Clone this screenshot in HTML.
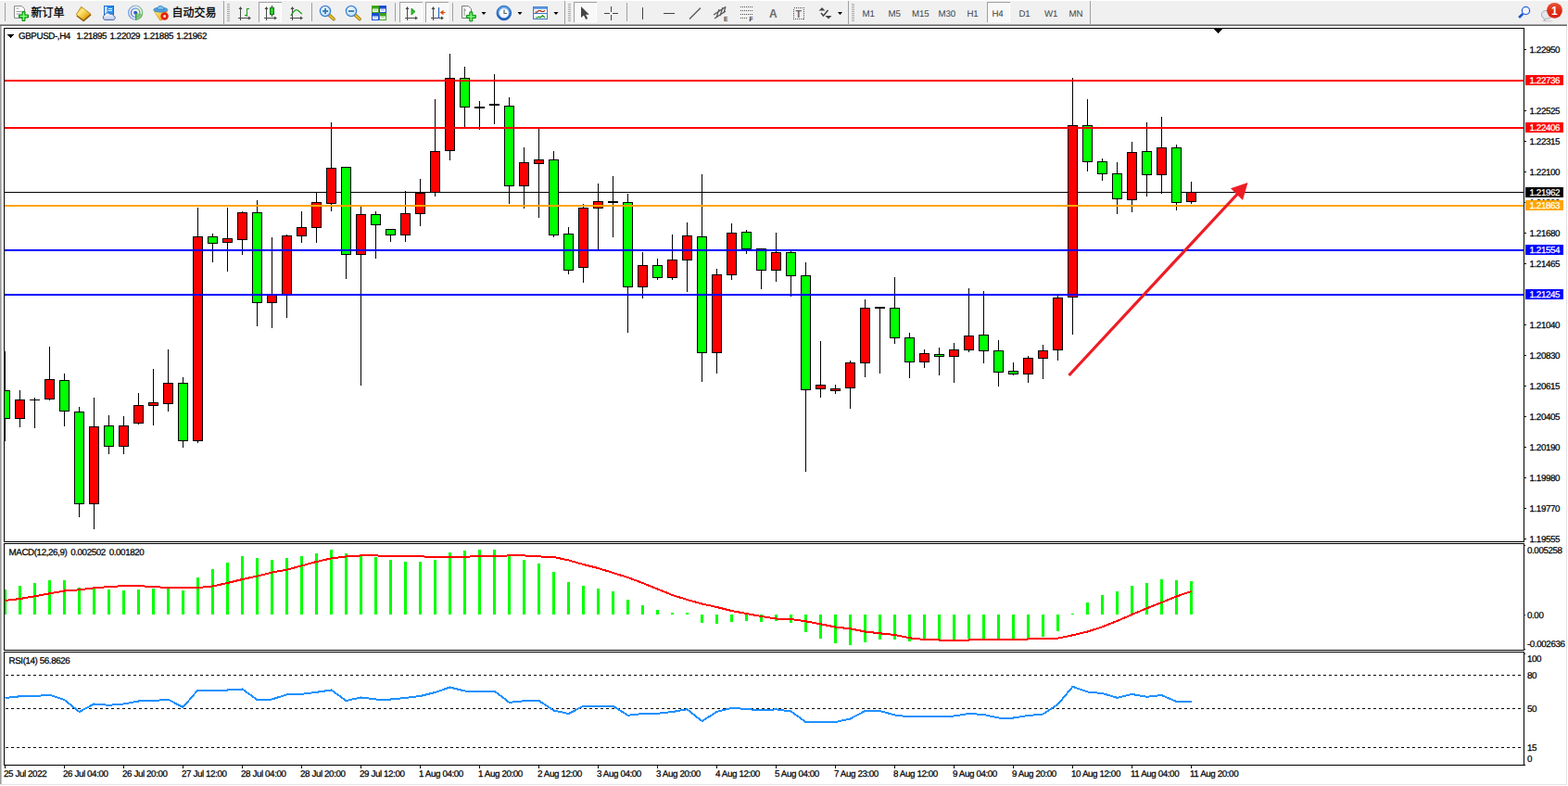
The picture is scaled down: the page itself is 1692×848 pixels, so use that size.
<!DOCTYPE html><html><head><meta charset="utf-8"><title>GBPUSD H4</title><style>
html,body{margin:0;padding:0;background:#fff;}body{width:1692px;height:848px;overflow:hidden;position:relative;font-family:"Liberation Sans",sans-serif;}
svg{position:absolute;left:0;top:0;}text{font-family:"Liberation Sans",sans-serif;}
.t{font-size:9.8px;letter-spacing:-0.4px;fill:#000;stroke:#000;stroke-width:0.25px;text-rendering:geometricPrecision;}.tw{font-size:9.8px;letter-spacing:-0.4px;fill:#fff;stroke:#fff;stroke-width:0.25px;text-rendering:geometricPrecision;}
.tb{font-size:9.7px;letter-spacing:-0.15px;fill:#444;text-rendering:geometricPrecision;}
</style></head><body>
<svg width="1692" height="848" viewBox="0 0 1692 848">
<g shape-rendering="crispEdges">
<rect x="0" y="0" width="1692" height="848" fill="#fff"/>
<rect x="0" y="1" width="1692" height="25" fill="#f0f0f0"/>
<rect x="0" y="26" width="1691" height="1" fill="#a0a0a0"/>
<rect x="0" y="27" width="1691" height="1" fill="#696969"/>
<rect x="0" y="28" width="1" height="818" fill="#9c9c9c"/>
<rect x="1" y="28" width="1" height="818" fill="#c4c4c4"/>
<rect x="1690" y="28" width="1" height="819" fill="#e3e3e3"/>
<rect x="0" y="846" width="1691" height="1" fill="#e3e3e3"/>
</g>
<defs><clipPath id="cm"><rect x="5" y="31" width="1639" height="553"/></clipPath>
<clipPath id="cd"><rect x="5" y="587" width="1639" height="114"/></clipPath>
<clipPath id="cr"><rect x="5" y="704" width="1639" height="121"/></clipPath></defs>
<g shape-rendering="crispEdges">
<rect x="5" y="207" width="1639" height="1" fill="#000"/>
<g clip-path="url(#cm)">
<rect x="5" y="379" width="1" height="97" fill="#000"/>
<rect x="0" y="421" width="11" height="31" fill="#000"/>
<rect x="1" y="422" width="9" height="29" fill="#00ff00"/>
<rect x="21" y="421" width="1" height="40" fill="#000"/>
<rect x="16" y="431" width="11" height="21" fill="#000"/>
<rect x="17" y="432" width="9" height="19" fill="#ff0000"/>
<rect x="37" y="429" width="1" height="33" fill="#000"/>
<rect x="32" y="431" width="11" height="1" fill="#000"/>
<rect x="53" y="374" width="1" height="58" fill="#000"/>
<rect x="48" y="409" width="11" height="22" fill="#000"/>
<rect x="49" y="410" width="9" height="20" fill="#ff0000"/>
<rect x="69" y="403" width="1" height="57" fill="#000"/>
<rect x="64" y="410" width="11" height="34" fill="#000"/>
<rect x="65" y="411" width="9" height="32" fill="#00ff00"/>
<rect x="85" y="439" width="1" height="119" fill="#000"/>
<rect x="80" y="444" width="11" height="100" fill="#000"/>
<rect x="81" y="445" width="9" height="98" fill="#00ff00"/>
<rect x="101" y="429" width="1" height="142" fill="#000"/>
<rect x="96" y="460" width="11" height="84" fill="#000"/>
<rect x="97" y="461" width="9" height="82" fill="#ff0000"/>
<rect x="117" y="448" width="1" height="42" fill="#000"/>
<rect x="112" y="459" width="11" height="23" fill="#000"/>
<rect x="113" y="460" width="9" height="21" fill="#00ff00"/>
<rect x="133" y="449" width="1" height="41" fill="#000"/>
<rect x="128" y="459" width="11" height="23" fill="#000"/>
<rect x="129" y="460" width="9" height="21" fill="#ff0000"/>
<rect x="149" y="424" width="1" height="34" fill="#000"/>
<rect x="144" y="437" width="11" height="20" fill="#000"/>
<rect x="145" y="438" width="9" height="18" fill="#ff0000"/>
<rect x="165" y="398" width="1" height="61" fill="#000"/>
<rect x="160" y="434" width="11" height="4" fill="#000"/>
<rect x="161" y="435" width="9" height="2" fill="#ff0000"/>
<rect x="181" y="377" width="1" height="67" fill="#000"/>
<rect x="176" y="413" width="11" height="23" fill="#000"/>
<rect x="177" y="414" width="9" height="21" fill="#ff0000"/>
<rect x="197" y="407" width="1" height="76" fill="#000"/>
<rect x="192" y="413" width="11" height="63" fill="#000"/>
<rect x="193" y="414" width="9" height="61" fill="#00ff00"/>
<rect x="213" y="224" width="1" height="254" fill="#000"/>
<rect x="208" y="255" width="11" height="221" fill="#000"/>
<rect x="209" y="256" width="9" height="219" fill="#ff0000"/>
<rect x="229" y="252" width="1" height="31" fill="#000"/>
<rect x="224" y="255" width="11" height="8" fill="#000"/>
<rect x="225" y="256" width="9" height="6" fill="#00ff00"/>
<rect x="245" y="224" width="1" height="69" fill="#000"/>
<rect x="240" y="257" width="11" height="5" fill="#000"/>
<rect x="241" y="258" width="9" height="3" fill="#ff0000"/>
<rect x="261" y="228" width="1" height="47" fill="#000"/>
<rect x="256" y="229" width="11" height="30" fill="#000"/>
<rect x="257" y="230" width="9" height="28" fill="#ff0000"/>
<rect x="277" y="216" width="1" height="136" fill="#000"/>
<rect x="272" y="229" width="11" height="98" fill="#000"/>
<rect x="273" y="230" width="9" height="96" fill="#00ff00"/>
<rect x="293" y="256" width="1" height="98" fill="#000"/>
<rect x="288" y="317" width="11" height="10" fill="#000"/>
<rect x="289" y="318" width="9" height="8" fill="#ff0000"/>
<rect x="309" y="253" width="1" height="90" fill="#000"/>
<rect x="304" y="254" width="11" height="64" fill="#000"/>
<rect x="305" y="255" width="9" height="62" fill="#ff0000"/>
<rect x="325" y="228" width="1" height="34" fill="#000"/>
<rect x="320" y="245" width="11" height="10" fill="#000"/>
<rect x="321" y="246" width="9" height="8" fill="#ff0000"/>
<rect x="341" y="207" width="1" height="55" fill="#000"/>
<rect x="336" y="218" width="11" height="28" fill="#000"/>
<rect x="337" y="219" width="9" height="26" fill="#ff0000"/>
<rect x="357" y="132" width="1" height="96" fill="#000"/>
<rect x="352" y="181" width="11" height="39" fill="#000"/>
<rect x="353" y="182" width="9" height="37" fill="#ff0000"/>
<rect x="373" y="180" width="1" height="121" fill="#000"/>
<rect x="368" y="180" width="11" height="95" fill="#000"/>
<rect x="369" y="181" width="9" height="93" fill="#00ff00"/>
<rect x="389" y="223" width="1" height="193" fill="#000"/>
<rect x="384" y="231" width="11" height="44" fill="#000"/>
<rect x="385" y="232" width="9" height="42" fill="#ff0000"/>
<rect x="405" y="228" width="1" height="51" fill="#000"/>
<rect x="400" y="231" width="11" height="12" fill="#000"/>
<rect x="401" y="232" width="9" height="10" fill="#00ff00"/>
<rect x="421" y="247" width="1" height="14" fill="#000"/>
<rect x="416" y="247" width="11" height="7" fill="#000"/>
<rect x="417" y="248" width="9" height="5" fill="#00ff00"/>
<rect x="437" y="206" width="1" height="55" fill="#000"/>
<rect x="432" y="230" width="11" height="24" fill="#000"/>
<rect x="433" y="231" width="9" height="22" fill="#ff0000"/>
<rect x="453" y="193" width="1" height="51" fill="#000"/>
<rect x="448" y="208" width="11" height="23" fill="#000"/>
<rect x="449" y="209" width="9" height="21" fill="#ff0000"/>
<rect x="469" y="107" width="1" height="105" fill="#000"/>
<rect x="464" y="163" width="11" height="45" fill="#000"/>
<rect x="465" y="164" width="9" height="43" fill="#ff0000"/>
<rect x="485" y="58" width="1" height="115" fill="#000"/>
<rect x="480" y="84" width="11" height="79" fill="#000"/>
<rect x="481" y="85" width="9" height="77" fill="#ff0000"/>
<rect x="501" y="72" width="1" height="65" fill="#000"/>
<rect x="496" y="84" width="11" height="32" fill="#000"/>
<rect x="497" y="85" width="9" height="30" fill="#00ff00"/>
<rect x="517" y="109" width="1" height="31" fill="#000"/>
<rect x="512" y="115" width="11" height="2" fill="#000"/>
<rect x="533" y="80" width="1" height="54" fill="#000"/>
<rect x="528" y="112" width="11" height="2" fill="#000"/>
<rect x="549" y="105" width="1" height="115" fill="#000"/>
<rect x="544" y="114" width="11" height="87" fill="#000"/>
<rect x="545" y="115" width="9" height="85" fill="#00ff00"/>
<rect x="565" y="159" width="1" height="66" fill="#000"/>
<rect x="560" y="175" width="11" height="26" fill="#000"/>
<rect x="561" y="176" width="9" height="24" fill="#ff0000"/>
<rect x="581" y="139" width="1" height="96" fill="#000"/>
<rect x="576" y="172" width="11" height="5" fill="#000"/>
<rect x="577" y="173" width="9" height="3" fill="#ff0000"/>
<rect x="597" y="163" width="1" height="93" fill="#000"/>
<rect x="592" y="172" width="11" height="82" fill="#000"/>
<rect x="593" y="173" width="9" height="80" fill="#00ff00"/>
<rect x="613" y="245" width="1" height="51" fill="#000"/>
<rect x="608" y="252" width="11" height="40" fill="#000"/>
<rect x="609" y="253" width="9" height="38" fill="#00ff00"/>
<rect x="629" y="220" width="1" height="85" fill="#000"/>
<rect x="624" y="224" width="11" height="65" fill="#000"/>
<rect x="625" y="225" width="9" height="63" fill="#ff0000"/>
<rect x="645" y="198" width="1" height="71" fill="#000"/>
<rect x="640" y="217" width="11" height="8" fill="#000"/>
<rect x="641" y="218" width="9" height="6" fill="#ff0000"/>
<rect x="661" y="190" width="1" height="66" fill="#000"/>
<rect x="656" y="217" width="11" height="2" fill="#000"/>
<rect x="677" y="209" width="1" height="150" fill="#000"/>
<rect x="672" y="218" width="11" height="92" fill="#000"/>
<rect x="673" y="219" width="9" height="90" fill="#00ff00"/>
<rect x="693" y="272" width="1" height="50" fill="#000"/>
<rect x="688" y="286" width="11" height="24" fill="#000"/>
<rect x="689" y="287" width="9" height="22" fill="#ff0000"/>
<rect x="709" y="279" width="1" height="23" fill="#000"/>
<rect x="704" y="286" width="11" height="14" fill="#000"/>
<rect x="705" y="287" width="9" height="12" fill="#00ff00"/>
<rect x="725" y="253" width="1" height="49" fill="#000"/>
<rect x="720" y="280" width="11" height="20" fill="#000"/>
<rect x="721" y="281" width="9" height="18" fill="#ff0000"/>
<rect x="741" y="240" width="1" height="75" fill="#000"/>
<rect x="736" y="254" width="11" height="27" fill="#000"/>
<rect x="737" y="255" width="9" height="25" fill="#ff0000"/>
<rect x="757" y="188" width="1" height="224" fill="#000"/>
<rect x="752" y="255" width="11" height="126" fill="#000"/>
<rect x="753" y="256" width="9" height="124" fill="#00ff00"/>
<rect x="773" y="290" width="1" height="113" fill="#000"/>
<rect x="768" y="296" width="11" height="85" fill="#000"/>
<rect x="769" y="297" width="9" height="83" fill="#ff0000"/>
<rect x="789" y="241" width="1" height="61" fill="#000"/>
<rect x="784" y="251" width="11" height="46" fill="#000"/>
<rect x="785" y="252" width="9" height="44" fill="#ff0000"/>
<rect x="805" y="248" width="1" height="26" fill="#000"/>
<rect x="800" y="250" width="11" height="19" fill="#000"/>
<rect x="801" y="251" width="9" height="17" fill="#00ff00"/>
<rect x="821" y="268" width="1" height="44" fill="#000"/>
<rect x="816" y="268" width="11" height="24" fill="#000"/>
<rect x="817" y="269" width="9" height="22" fill="#00ff00"/>
<rect x="837" y="251" width="1" height="53" fill="#000"/>
<rect x="832" y="272" width="11" height="20" fill="#000"/>
<rect x="833" y="273" width="9" height="18" fill="#ff0000"/>
<rect x="853" y="271" width="1" height="49" fill="#000"/>
<rect x="848" y="272" width="11" height="26" fill="#000"/>
<rect x="849" y="273" width="9" height="24" fill="#00ff00"/>
<rect x="869" y="283" width="1" height="226" fill="#000"/>
<rect x="864" y="297" width="11" height="124" fill="#000"/>
<rect x="865" y="298" width="9" height="122" fill="#00ff00"/>
<rect x="885" y="368" width="1" height="61" fill="#000"/>
<rect x="880" y="415" width="11" height="5" fill="#000"/>
<rect x="881" y="416" width="9" height="3" fill="#ff0000"/>
<rect x="901" y="415" width="1" height="10" fill="#000"/>
<rect x="896" y="419" width="11" height="3" fill="#000"/>
<rect x="897" y="420" width="9" height="1" fill="#ff0000"/>
<rect x="917" y="389" width="1" height="52" fill="#000"/>
<rect x="912" y="391" width="11" height="28" fill="#000"/>
<rect x="913" y="392" width="9" height="26" fill="#ff0000"/>
<rect x="933" y="323" width="1" height="84" fill="#000"/>
<rect x="928" y="332" width="11" height="60" fill="#000"/>
<rect x="929" y="333" width="9" height="58" fill="#ff0000"/>
<rect x="949" y="331" width="1" height="72" fill="#000"/>
<rect x="944" y="331" width="11" height="2" fill="#000"/>
<rect x="965" y="299" width="1" height="72" fill="#000"/>
<rect x="960" y="332" width="11" height="33" fill="#000"/>
<rect x="961" y="333" width="9" height="31" fill="#00ff00"/>
<rect x="981" y="359" width="1" height="49" fill="#000"/>
<rect x="976" y="364" width="11" height="27" fill="#000"/>
<rect x="977" y="365" width="9" height="25" fill="#00ff00"/>
<rect x="997" y="377" width="1" height="20" fill="#000"/>
<rect x="992" y="381" width="11" height="10" fill="#000"/>
<rect x="993" y="382" width="9" height="8" fill="#ff0000"/>
<rect x="1013" y="375" width="1" height="30" fill="#000"/>
<rect x="1008" y="382" width="11" height="3" fill="#000"/>
<rect x="1009" y="383" width="9" height="1" fill="#00ff00"/>
<rect x="1029" y="370" width="1" height="43" fill="#000"/>
<rect x="1024" y="377" width="11" height="8" fill="#000"/>
<rect x="1025" y="378" width="9" height="6" fill="#ff0000"/>
<rect x="1045" y="311" width="1" height="69" fill="#000"/>
<rect x="1040" y="362" width="11" height="16" fill="#000"/>
<rect x="1041" y="363" width="9" height="14" fill="#ff0000"/>
<rect x="1061" y="314" width="1" height="78" fill="#000"/>
<rect x="1056" y="361" width="11" height="18" fill="#000"/>
<rect x="1057" y="362" width="9" height="16" fill="#00ff00"/>
<rect x="1077" y="367" width="1" height="50" fill="#000"/>
<rect x="1072" y="378" width="11" height="24" fill="#000"/>
<rect x="1073" y="379" width="9" height="22" fill="#00ff00"/>
<rect x="1093" y="391" width="1" height="14" fill="#000"/>
<rect x="1088" y="400" width="11" height="4" fill="#000"/>
<rect x="1089" y="401" width="9" height="2" fill="#00ff00"/>
<rect x="1109" y="384" width="1" height="29" fill="#000"/>
<rect x="1104" y="386" width="11" height="18" fill="#000"/>
<rect x="1105" y="387" width="9" height="16" fill="#ff0000"/>
<rect x="1125" y="372" width="1" height="37" fill="#000"/>
<rect x="1120" y="378" width="11" height="9" fill="#000"/>
<rect x="1121" y="379" width="9" height="7" fill="#ff0000"/>
<rect x="1141" y="319" width="1" height="70" fill="#000"/>
<rect x="1136" y="321" width="11" height="57" fill="#000"/>
<rect x="1137" y="322" width="9" height="55" fill="#ff0000"/>
<rect x="1157" y="84" width="1" height="277" fill="#000"/>
<rect x="1152" y="135" width="11" height="186" fill="#000"/>
<rect x="1153" y="136" width="9" height="184" fill="#ff0000"/>
<rect x="1173" y="107" width="1" height="78" fill="#000"/>
<rect x="1168" y="135" width="11" height="40" fill="#000"/>
<rect x="1169" y="136" width="9" height="38" fill="#00ff00"/>
<rect x="1189" y="171" width="1" height="24" fill="#000"/>
<rect x="1184" y="174" width="11" height="14" fill="#000"/>
<rect x="1185" y="175" width="9" height="12" fill="#00ff00"/>
<rect x="1205" y="175" width="1" height="56" fill="#000"/>
<rect x="1200" y="187" width="11" height="28" fill="#000"/>
<rect x="1201" y="188" width="9" height="26" fill="#00ff00"/>
<rect x="1221" y="153" width="1" height="76" fill="#000"/>
<rect x="1216" y="164" width="11" height="52" fill="#000"/>
<rect x="1217" y="165" width="9" height="50" fill="#ff0000"/>
<rect x="1237" y="132" width="1" height="80" fill="#000"/>
<rect x="1232" y="163" width="11" height="26" fill="#000"/>
<rect x="1233" y="164" width="9" height="24" fill="#00ff00"/>
<rect x="1253" y="126" width="1" height="83" fill="#000"/>
<rect x="1248" y="159" width="11" height="30" fill="#000"/>
<rect x="1249" y="160" width="9" height="28" fill="#ff0000"/>
<rect x="1269" y="156" width="1" height="71" fill="#000"/>
<rect x="1264" y="159" width="11" height="60" fill="#000"/>
<rect x="1265" y="160" width="9" height="58" fill="#00ff00"/>
<rect x="1285" y="196" width="1" height="24" fill="#000"/>
<rect x="1280" y="207" width="11" height="11" fill="#000"/>
<rect x="1281" y="208" width="9" height="9" fill="#ff0000"/>
</g>
<rect x="5" y="86" width="1639" height="2" fill="#ff0000"/>
<rect x="5" y="137" width="1639" height="2" fill="#ff0000"/>
<rect x="5" y="221" width="1639" height="2" fill="#ffa500"/>
<rect x="5" y="269" width="1639" height="2" fill="#0000ff"/>
<rect x="5" y="317" width="1639" height="2" fill="#0000ff"/>
<g clip-path="url(#cd)">
<rect x="4" y="636" width="3" height="27" fill="#00ff00"/>
<rect x="20" y="632" width="3" height="31" fill="#00ff00"/>
<rect x="36" y="629" width="3" height="34" fill="#00ff00"/>
<rect x="52" y="626" width="3" height="37" fill="#00ff00"/>
<rect x="68" y="626" width="3" height="37" fill="#00ff00"/>
<rect x="84" y="634" width="3" height="29" fill="#00ff00"/>
<rect x="100" y="635" width="3" height="28" fill="#00ff00"/>
<rect x="116" y="636" width="3" height="27" fill="#00ff00"/>
<rect x="132" y="637" width="3" height="26" fill="#00ff00"/>
<rect x="148" y="636" width="3" height="27" fill="#00ff00"/>
<rect x="164" y="635" width="3" height="28" fill="#00ff00"/>
<rect x="180" y="634" width="3" height="29" fill="#00ff00"/>
<rect x="196" y="637" width="3" height="26" fill="#00ff00"/>
<rect x="212" y="623" width="3" height="40" fill="#00ff00"/>
<rect x="228" y="614" width="3" height="49" fill="#00ff00"/>
<rect x="244" y="607" width="3" height="56" fill="#00ff00"/>
<rect x="260" y="600" width="3" height="63" fill="#00ff00"/>
<rect x="276" y="602" width="3" height="61" fill="#00ff00"/>
<rect x="292" y="604" width="3" height="59" fill="#00ff00"/>
<rect x="308" y="602" width="3" height="61" fill="#00ff00"/>
<rect x="324" y="600" width="3" height="63" fill="#00ff00"/>
<rect x="340" y="597" width="3" height="66" fill="#00ff00"/>
<rect x="356" y="593" width="3" height="70" fill="#00ff00"/>
<rect x="372" y="597" width="3" height="66" fill="#00ff00"/>
<rect x="388" y="598" width="3" height="65" fill="#00ff00"/>
<rect x="404" y="601" width="3" height="62" fill="#00ff00"/>
<rect x="420" y="604" width="3" height="59" fill="#00ff00"/>
<rect x="436" y="606" width="3" height="57" fill="#00ff00"/>
<rect x="452" y="606" width="3" height="57" fill="#00ff00"/>
<rect x="468" y="604" width="3" height="59" fill="#00ff00"/>
<rect x="484" y="596" width="3" height="67" fill="#00ff00"/>
<rect x="500" y="594" width="3" height="69" fill="#00ff00"/>
<rect x="516" y="593" width="3" height="70" fill="#00ff00"/>
<rect x="532" y="593" width="3" height="70" fill="#00ff00"/>
<rect x="548" y="600" width="3" height="63" fill="#00ff00"/>
<rect x="564" y="604" width="3" height="59" fill="#00ff00"/>
<rect x="580" y="608" width="3" height="55" fill="#00ff00"/>
<rect x="596" y="617" width="3" height="46" fill="#00ff00"/>
<rect x="612" y="628" width="3" height="35" fill="#00ff00"/>
<rect x="628" y="632" width="3" height="31" fill="#00ff00"/>
<rect x="644" y="635" width="3" height="28" fill="#00ff00"/>
<rect x="660" y="638" width="3" height="25" fill="#00ff00"/>
<rect x="676" y="647" width="3" height="16" fill="#00ff00"/>
<rect x="692" y="653" width="3" height="10" fill="#00ff00"/>
<rect x="708" y="658" width="3" height="5" fill="#00ff00"/>
<rect x="724" y="661" width="3" height="2" fill="#00ff00"/>
<rect x="740" y="661" width="3" height="2" fill="#00ff00"/>
<rect x="756" y="663" width="3" height="9" fill="#00ff00"/>
<rect x="772" y="663" width="3" height="10" fill="#00ff00"/>
<rect x="788" y="663" width="3" height="8" fill="#00ff00"/>
<rect x="804" y="663" width="3" height="7" fill="#00ff00"/>
<rect x="820" y="663" width="3" height="8" fill="#00ff00"/>
<rect x="836" y="663" width="3" height="7" fill="#00ff00"/>
<rect x="852" y="663" width="3" height="9" fill="#00ff00"/>
<rect x="868" y="663" width="3" height="19" fill="#00ff00"/>
<rect x="884" y="663" width="3" height="26" fill="#00ff00"/>
<rect x="900" y="663" width="3" height="31" fill="#00ff00"/>
<rect x="916" y="663" width="3" height="33" fill="#00ff00"/>
<rect x="932" y="663" width="3" height="30" fill="#00ff00"/>
<rect x="948" y="663" width="3" height="27" fill="#00ff00"/>
<rect x="964" y="663" width="3" height="27" fill="#00ff00"/>
<rect x="980" y="663" width="3" height="29" fill="#00ff00"/>
<rect x="996" y="663" width="3" height="28" fill="#00ff00"/>
<rect x="1012" y="663" width="3" height="27" fill="#00ff00"/>
<rect x="1028" y="663" width="3" height="27" fill="#00ff00"/>
<rect x="1044" y="663" width="3" height="26" fill="#00ff00"/>
<rect x="1060" y="663" width="3" height="26" fill="#00ff00"/>
<rect x="1076" y="663" width="3" height="26" fill="#00ff00"/>
<rect x="1092" y="663" width="3" height="26" fill="#00ff00"/>
<rect x="1108" y="663" width="3" height="27" fill="#00ff00"/>
<rect x="1124" y="663" width="3" height="24" fill="#00ff00"/>
<rect x="1140" y="663" width="3" height="18" fill="#00ff00"/>
<rect x="1156" y="662" width="3" height="1" fill="#00ff00"/>
<rect x="1172" y="650" width="3" height="13" fill="#00ff00"/>
<rect x="1188" y="642" width="3" height="21" fill="#00ff00"/>
<rect x="1204" y="638" width="3" height="25" fill="#00ff00"/>
<rect x="1220" y="632" width="3" height="31" fill="#00ff00"/>
<rect x="1236" y="629" width="3" height="34" fill="#00ff00"/>
<rect x="1252" y="625" width="3" height="38" fill="#00ff00"/>
<rect x="1268" y="626" width="3" height="37" fill="#00ff00"/>
<rect x="1284" y="627" width="3" height="36" fill="#00ff00"/>
<polyline points="5.5,648 21.5,646 37.5,643.3 53.5,640.3 69.5,637.5 85.5,636.3 101.5,634.3 117.5,633.1 133.5,632.1 149.5,632.1 165.5,633.1 181.5,634 197.5,634 213.5,634 229.5,632.5 245.5,629 261.5,625 277.5,621.6 293.5,617.6 309.5,614.6 325.5,610.4 341.5,606 357.5,602.4 373.5,600.4 389.5,599.4 405.5,599.4 421.5,600 437.5,600 453.5,600.4 469.5,600.8 485.5,600.8 501.5,600.8 517.5,600 533.5,600 549.5,599.4 565.5,599.4 581.5,600.4 597.5,601 613.5,604.4 629.5,609 645.5,613 661.5,618 677.5,623 693.5,629 709.5,635.5 725.5,642 741.5,647 757.5,651.5 773.5,655 789.5,659 805.5,662 821.5,665 837.5,667.5 853.5,668 869.5,670.3 885.5,673.3 901.5,676.5 917.5,678.3 933.5,681.5 949.5,683.3 965.5,685 981.5,688.3 997.5,690 1013.5,690.5 1029.5,690.5 1045.5,690.5 1061.5,690 1077.5,690 1093.5,690 1109.5,689.5 1125.5,689 1141.5,688.7 1157.5,685.3 1173.5,681.5 1189.5,676.3 1205.5,670 1221.5,663 1237.5,656.3 1253.5,650 1269.5,643.5 1285.5,638" fill="none" stroke="#ff0000" stroke-width="2"/>
</g>
<g clip-path="url(#cr)">
<line x1="6" y1="728.5" x2="1644" y2="728.5" stroke="#000" stroke-width="1" stroke-dasharray="3 3"/>
<line x1="6" y1="764.5" x2="1644" y2="764.5" stroke="#000" stroke-width="1" stroke-dasharray="3 3"/>
<line x1="6" y1="806.5" x2="1644" y2="806.5" stroke="#000" stroke-width="1" stroke-dasharray="3 3"/>
</g>
</g>
<g clip-path="url(#cr)">
<polyline points="5.5,753 21.5,751.3 37.5,751 53.5,749.8 69.5,755 85.5,768 101.5,759.5 117.5,760.8 133.5,759.5 149.5,756.5 165.5,756 181.5,754.8 197.5,763 213.5,744.5 229.5,744.5 245.5,744.5 261.5,743.5 277.5,755 293.5,754.5 309.5,749.3 325.5,748.8 341.5,746.8 357.5,744.5 373.5,756 389.5,752.5 405.5,754.5 421.5,754.5 437.5,753 453.5,751 469.5,747 485.5,741.5 501.5,745.5 517.5,745.5 533.5,745.5 549.5,757.8 565.5,756.3 581.5,756 597.5,766.5 613.5,770 629.5,761.8 645.5,761.8 661.5,761.8 677.5,771.8 693.5,770 709.5,769.8 725.5,768 741.5,765.3 757.5,778 773.5,768 789.5,763.8 805.5,765 821.5,766.5 837.5,765.3 853.5,767.5 869.5,779 885.5,779 901.5,779 917.5,775.5 933.5,767 949.5,767 965.5,771.5 981.5,773.5 997.5,772.8 1013.5,772.8 1029.5,772.5 1045.5,770 1061.5,771 1077.5,774.5 1093.5,774.5 1109.5,772 1125.5,770.5 1141.5,760 1157.5,740.8 1173.5,746.5 1189.5,748 1205.5,752.8 1221.5,749 1237.5,751.8 1253.5,750 1269.5,757 1285.5,757" fill="none" stroke="#1e90ff" stroke-width="2" stroke-linejoin="round" shape-rendering="crispEdges"/>
</g>
<g shape-rendering="crispEdges" fill="#000">
<rect x="4" y="30" width="1641" height="1"/>
<rect x="4" y="30" width="1" height="796"/>
<rect x="1644" y="30" width="1" height="796"/>
<rect x="4" y="584" width="1641" height="1"/>
<rect x="4" y="586" width="1641" height="1"/>
<rect x="4" y="701" width="1641" height="1"/>
<rect x="4" y="703" width="1641" height="1"/>
<rect x="4" y="825" width="1642" height="1"/>
<rect x="2" y="585" width="1643" height="1" fill="#fff"/>
<rect x="2" y="702" width="1643" height="1" fill="#fff"/>
<rect x="1645" y="53" width="2" height="1"/>
<rect x="1645" y="119" width="2" height="1"/>
<rect x="1645" y="152" width="2" height="1"/>
<rect x="1645" y="185" width="2" height="1"/>
<rect x="1645" y="218" width="2" height="1"/>
<rect x="1645" y="251" width="2" height="1"/>
<rect x="1645" y="284" width="2" height="1"/>
<rect x="1645" y="350" width="2" height="1"/>
<rect x="1645" y="383" width="2" height="1"/>
<rect x="1645" y="416" width="2" height="1"/>
<rect x="1645" y="449" width="2" height="1"/>
<rect x="1645" y="482" width="2" height="1"/>
<rect x="1645" y="515" width="2" height="1"/>
<rect x="1645" y="548" width="2" height="1"/>
<rect x="1645" y="581" width="2" height="1"/>
<rect x="1645" y="588" width="1" height="1"/>
<rect x="1645" y="663" width="1" height="1"/>
<rect x="1645" y="700" width="1" height="1"/>
<rect x="1645" y="705" width="1" height="1"/>
<rect x="5" y="826" width="1" height="3"/>
<rect x="69" y="826" width="1" height="3"/>
<rect x="133" y="826" width="1" height="3"/>
<rect x="197" y="826" width="1" height="3"/>
<rect x="261" y="826" width="1" height="3"/>
<rect x="325" y="826" width="1" height="3"/>
<rect x="389" y="826" width="1" height="3"/>
<rect x="453" y="826" width="1" height="3"/>
<rect x="517" y="826" width="1" height="3"/>
<rect x="581" y="826" width="1" height="3"/>
<rect x="645" y="826" width="1" height="3"/>
<rect x="709" y="826" width="1" height="3"/>
<rect x="773" y="826" width="1" height="3"/>
<rect x="837" y="826" width="1" height="3"/>
<rect x="901" y="826" width="1" height="3"/>
<rect x="965" y="826" width="1" height="3"/>
<rect x="1029" y="826" width="1" height="3"/>
<rect x="1093" y="826" width="1" height="3"/>
<rect x="1157" y="826" width="1" height="3"/>
<rect x="1221" y="826" width="1" height="3"/>
<rect x="1285" y="826" width="1" height="3"/>
</g>
<g shape-rendering="crispEdges" fill="#000"><rect x="1310" y="31" width="9" height="1"/><rect x="1311" y="32" width="7" height="1"/><rect x="1312" y="33" width="5" height="1"/><rect x="1313" y="34" width="3" height="1"/><rect x="1314" y="35" width="1" height="1"/><rect x="8" y="37" width="7" height="1"/><rect x="9" y="38" width="5" height="1"/><rect x="10" y="39" width="3" height="1"/><rect x="11" y="40" width="1" height="1"/></g>
<text class="t" x="1650.5" y="57">1.22950</text>
<text class="t" x="1650.5" y="123">1.22525</text>
<text class="t" x="1650.5" y="156">1.22315</text>
<text class="t" x="1650.5" y="189">1.22100</text>
<text class="t" x="1650.5" y="222">1.21890</text>
<text class="t" x="1650.5" y="255">1.21680</text>
<text class="t" x="1650.5" y="288">1.21465</text>
<text class="t" x="1650.5" y="354">1.21040</text>
<text class="t" x="1650.5" y="387">1.20830</text>
<text class="t" x="1650.5" y="420">1.20615</text>
<text class="t" x="1650.5" y="453">1.20405</text>
<text class="t" x="1650.5" y="486">1.20190</text>
<text class="t" x="1650.5" y="519">1.19980</text>
<text class="t" x="1650.5" y="552">1.19770</text>
<text class="t" x="1650.5" y="585">1.19555</text>
<rect x="1646" y="81" width="41" height="11" fill="#ff0000" shape-rendering="crispEdges"/>
<text class="tw" x="1650.5" y="90">1.22736</text>
<rect x="1646" y="132" width="41" height="11" fill="#ff0000" shape-rendering="crispEdges"/>
<text class="tw" x="1650.5" y="141">1.22406</text>
<rect x="1646" y="202" width="41" height="11" fill="#000" shape-rendering="crispEdges"/>
<text class="tw" x="1650.5" y="211">1.21962</text>
<rect x="1646" y="216" width="41" height="11" fill="#ffa500" shape-rendering="crispEdges"/>
<text class="tw" x="1650.5" y="225">1.21863</text>
<rect x="1646" y="264" width="41" height="11" fill="#0000ff" shape-rendering="crispEdges"/>
<text class="tw" x="1650.5" y="273">1.21554</text>
<rect x="1646" y="312" width="41" height="11" fill="#0000ff" shape-rendering="crispEdges"/>
<text class="tw" x="1650.5" y="321">1.21245</text>
<text class="t" x="20" y="42" style="word-spacing:1px">GBPUSD-,H4&#160;&#160;1.21895 1.22029 1.21885 1.21962</text>
<text class="t" x="9.5" y="599" style="word-spacing:1.5px">MACD(12,26,9) 0.002502 0.001820</text>
<text class="t" x="9.5" y="716">RSI(14) 56.8626</text>
<text class="t" x="1648" y="597">0.005258</text>
<text class="t" x="1648" y="667">0.00</text>
<text class="t" x="1648" y="698">-0.002636</text>
<text class="t" x="1648" y="714">100</text>
<text class="t" x="1648" y="732">80</text>
<text class="t" x="1648" y="768">50</text>
<text class="t" x="1648" y="810">15</text>
<text class="t" x="1648" y="822">0</text>
<text class="t" x="4" y="838">25 Jul 2022</text>
<text class="t" x="68" y="838">26 Jul 04:00</text>
<text class="t" x="132" y="838">26 Jul 20:00</text>
<text class="t" x="196" y="838">27 Jul 12:00</text>
<text class="t" x="260" y="838">28 Jul 04:00</text>
<text class="t" x="324" y="838">28 Jul 20:00</text>
<text class="t" x="388" y="838">29 Jul 12:00</text>
<text class="t" x="452" y="838">1 Aug 04:00</text>
<text class="t" x="516" y="838">1 Aug 20:00</text>
<text class="t" x="580" y="838">2 Aug 12:00</text>
<text class="t" x="644" y="838">3 Aug 04:00</text>
<text class="t" x="708" y="838">3 Aug 20:00</text>
<text class="t" x="772" y="838">4 Aug 12:00</text>
<text class="t" x="836" y="838">5 Aug 04:00</text>
<text class="t" x="900" y="838">7 Aug 23:00</text>
<text class="t" x="964" y="838">8 Aug 12:00</text>
<text class="t" x="1028" y="838">9 Aug 04:00</text>
<text class="t" x="1092" y="838">9 Aug 20:00</text>
<text class="t" x="1156" y="838">10 Aug 12:00</text>
<text class="t" x="1220" y="838">11 Aug 04:00</text>
<text class="t" x="1284" y="838">11 Aug 20:00</text>
<line x1="1153.5" y1="405" x2="1336" y2="208.5" stroke="#ed1c24" stroke-width="3.2"/>
<path d="M1346.5 197L1328 203.2L1341 216z" fill="#ed1c24"/>
<rect x="5" y="3" width="1" height="20" fill="#a0a0a0" shape-rendering="crispEdges"/>
<path d="M15.500 6.500h8l3 3v10h-11z" fill="#fff" stroke="#8a8a8a"/><path d="M17.500 9h3M17.500 12.500h6M17.500 15h5" stroke="#9a9a9a"/>
<path d="M24 12.500h3v3.500h3.500v3h-3.500v3.500h-3v-3.500h-3.500v-3h3.500z" fill="#3cdc3c" stroke="#118a11" stroke-width="1" stroke-linejoin="miter"/><path d="M25.500 14v8M22 17.500h7" stroke="#90f890" stroke-width="1" fill="none"/>
<text x="33.500" y="17.500" font-size="12" fill="#000" stroke="#000" stroke-width="0.300" style="font-family:'Liberation Sans','Noto Sans CJK SC',sans-serif">新订单</text>
<defs><linearGradient id="gBook" x1="0" y1="0" x2="1" y2="1"><stop offset="0" stop-color="#c88c10"/><stop offset="0.35" stop-color="#ffe878"/><stop offset="0.7" stop-color="#e8b020"/><stop offset="1" stop-color="#b87808"/></linearGradient><linearGradient id="gCloud" x1="0" y1="0" x2="0" y2="1"><stop offset="0" stop-color="#ffffff"/><stop offset="1" stop-color="#b8c8e8"/></linearGradient><linearGradient id="gFun" x1="0" y1="0" x2="1" y2="1"><stop offset="0" stop-color="#fff080"/><stop offset="1" stop-color="#e09810"/></linearGradient><linearGradient id="gRad" x1="0" y1="0" x2="1" y2="0"><stop offset="0" stop-color="#5080e0"/><stop offset="0.55" stop-color="#88a8d8"/><stop offset="1" stop-color="#58b058"/></linearGradient><radialGradient id="gMag" cx="0.4" cy="0.35" r="0.7"><stop offset="0" stop-color="#f4fbff"/><stop offset="1" stop-color="#b8dcf8"/></radialGradient><linearGradient id="gClk" x1="0" y1="0" x2="0" y2="1"><stop offset="0" stop-color="#58a8f0"/><stop offset="1" stop-color="#1858b8"/></linearGradient></defs>
<path d="M83 16.800l7.200 5.600 7.800-6.900" fill="none" stroke="#8a5808" stroke-width="1.800" stroke-linejoin="round"/>
<path d="M87.700 7.200L97.800 15L90 21.500L82.200 15.800z" fill="url(#gBook)" stroke="#b07c10" stroke-width="0.800" stroke-linejoin="round"/>
<rect x="112.500" y="6.500" width="10" height="9" fill="#2890f0" stroke="#1868d0"/><rect x="113" y="7" width="2.500" height="8" fill="#d8ecff"/><path d="M117 9.500h4M116.500 11.500h4.500" stroke="#e8f4ff"/>
<path d="M113.200 21.500a2.900 2.900 0 0 1-.2-5.400a3.200 3.200 0 0 1 5.800-.6a2.400 2.400 0 0 1 3.600 1.400a2.400 2.400 0 0 1 .2 4.600z" fill="url(#gCloud)" stroke="#4c6cac" stroke-width="1"/>
<circle cx="146.200" cy="13.700" r="7.500" fill="none" stroke="url(#gRad)" stroke-width="1.300" opacity="0.75"/><circle cx="146.200" cy="13.700" r="4.700" fill="none" stroke="url(#gRad)" stroke-width="1.400"/>
<path d="M146.200 13.700v8.200a8.200 8.200 0 0 0 8-6.500z" fill="#68b868" opacity="0.700"/><circle cx="146.200" cy="13.700" r="2" fill="#2c5cc8"/><path d="M146.700 14v7.800" stroke="#20a020" stroke-width="1.200"/>
<path d="M166.500 12.300h14l-5.500 9.400h-2.500z" fill="url(#gFun)" stroke="#d8a010" stroke-width="0.800"/>
<ellipse cx="173.300" cy="10.600" rx="7.600" ry="2.500" fill="#58a4e0" stroke="#2c7cc4" stroke-width="0.800"/><path d="M169.600 10.400c0-5.400 7.400-5.400 7.400 0z" fill="#7cc0ec" stroke="#2c7cc4" stroke-width="0.800"/>
<circle cx="177.600" cy="17.500" r="4.200" fill="#e02410"/><rect x="176.400" y="16.300" width="2.400" height="2.400" fill="#fff"/>
<text x="185.500" y="17.500" font-size="12" fill="#000" stroke="#000" stroke-width="0.300" style="font-family:'Liberation Sans','Noto Sans CJK SC',sans-serif">自动交易</text>
<rect x="241" y="1" width="1" height="25" fill="#a0a0a0" shape-rendering="crispEdges"/>
<rect x="245" y="4" width="3" height="1" fill="#a9a9a9" shape-rendering="crispEdges"/>
<rect x="245" y="6" width="3" height="1" fill="#a9a9a9" shape-rendering="crispEdges"/>
<rect x="245" y="8" width="3" height="1" fill="#a9a9a9" shape-rendering="crispEdges"/>
<rect x="245" y="10" width="3" height="1" fill="#a9a9a9" shape-rendering="crispEdges"/>
<rect x="245" y="12" width="3" height="1" fill="#a9a9a9" shape-rendering="crispEdges"/>
<rect x="245" y="14" width="3" height="1" fill="#a9a9a9" shape-rendering="crispEdges"/>
<rect x="245" y="16" width="3" height="1" fill="#a9a9a9" shape-rendering="crispEdges"/>
<rect x="245" y="18" width="3" height="1" fill="#a9a9a9" shape-rendering="crispEdges"/>
<rect x="245" y="20" width="3" height="1" fill="#a9a9a9" shape-rendering="crispEdges"/>
<rect x="245" y="22" width="3" height="1" fill="#a9a9a9" shape-rendering="crispEdges"/>
<path d="M259.5 8v14M257 19.5h13" stroke="#4a4a4a" fill="none" shape-rendering="crispEdges"/>
<path d="M259.5 7l-2 3h4zM271 19.5l-3-2v4z" fill="#4a4a4a"/>
<g shape-rendering="crispEdges" fill="#1c9c1c"><rect x="266" y="9" width="1" height="9"/><rect x="266" y="9" width="3" height="1"/><rect x="264" y="16" width="3" height="1"/></g>
<g shape-rendering="crispEdges"><rect x="279" y="2" width="25" height="22" fill="#f8f8f8"/><rect x="279" y="2" width="25" height="1" fill="#a0a0a0"/><rect x="279" y="2" width="1" height="22" fill="#a0a0a0"/><rect x="303" y="3" width="1" height="21" fill="#fff"/><rect x="280" y="23" width="24" height="1" fill="#fff"/></g>
<path d="M287.5 8v14M285 19.5h13" stroke="#4a4a4a" fill="none" shape-rendering="crispEdges"/>
<path d="M287.5 7l-2 3h4zM299 19.5l-3-2v4z" fill="#4a4a4a"/>
<path d="M293.5 6v12" stroke="#333"/><rect x="291.5" y="8.500" width="4" height="7" fill="#30d030" stroke="#0a7a0a"/>
<path d="M315.5 8v14M313 19.5h13" stroke="#4a4a4a" fill="none" shape-rendering="crispEdges"/>
<path d="M315.5 7l-2 3h4zM327 19.5l-3-2v4z" fill="#4a4a4a"/>
<path d="M314 17c3-6 5-7 7-6s3 3 5 4" stroke="#1c9c1c" stroke-width="1.3" fill="none"/>
<rect x="336" y="3" width="1" height="20" fill="#a0a0a0" shape-rendering="crispEdges"/>
<path d="M354.5 15.500l5.500 5" stroke="#8a6808" stroke-width="3.600" stroke-linecap="round"/><path d="M354.5 15.500l5.500 5" stroke="#e8c028" stroke-width="2.200" stroke-linecap="round"/>
<circle cx="351" cy="12" r="5.600" fill="url(#gMag)" stroke="#3c80d4" stroke-width="1.300"/>
<path d="M348 12h6" stroke="#3478b0" stroke-width="1.800"/>
<path d="M351 9v6" stroke="#3478b0" stroke-width="1.800"/>
<path d="M382.5 15.500l5.500 5" stroke="#8a6808" stroke-width="3.600" stroke-linecap="round"/><path d="M382.5 15.500l5.500 5" stroke="#e8c028" stroke-width="2.200" stroke-linecap="round"/>
<circle cx="379" cy="12" r="5.600" fill="url(#gMag)" stroke="#3c80d4" stroke-width="1.300"/>
<path d="M376 12h6" stroke="#3478b0" stroke-width="1.800"/>
<rect x="401" y="6" width="8" height="8" fill="#3ca418"/><rect x="402" y="9.500" width="6" height="3.500" fill="#fff"/><rect x="403" y="10.500" width="4" height="1" fill="#8cd070"/>
<rect x="409" y="6" width="8" height="8" fill="#1c4cd4"/><rect x="410" y="9.500" width="6" height="3.500" fill="#fff"/><rect x="411" y="10.500" width="4" height="1" fill="#88a8f0"/>
<rect x="401" y="14" width="8" height="8" fill="#1c4cd4"/><rect x="402" y="17.500" width="6" height="3.500" fill="#fff"/><rect x="403" y="18.500" width="4" height="1" fill="#88a8f0"/>
<rect x="409" y="14" width="8" height="8" fill="#3ca418"/><rect x="410" y="17.500" width="6" height="3.500" fill="#fff"/><rect x="411" y="18.500" width="4" height="1" fill="#8cd070"/>
<rect x="426" y="3" width="1" height="20" fill="#a0a0a0" shape-rendering="crispEdges"/>
<g shape-rendering="crispEdges"><rect x="431" y="2" width="25" height="22" fill="#f8f8f8"/><rect x="431" y="2" width="25" height="1" fill="#a0a0a0"/><rect x="431" y="2" width="1" height="22" fill="#a0a0a0"/><rect x="455" y="3" width="1" height="21" fill="#fff"/><rect x="432" y="23" width="24" height="1" fill="#fff"/></g>
<path d="M439.5 8v14M437 19.5h13" stroke="#4a4a4a" fill="none" shape-rendering="crispEdges"/>
<path d="M439.5 7l-2 3h4zM451 19.5l-3-2v4z" fill="#4a4a4a"/>
<path d="M444 9l4 3.5-4 3.5z" fill="#30c030" stroke="#0a8a0a" stroke-width="0.8"/>
<g shape-rendering="crispEdges"><rect x="459" y="2" width="25" height="22" fill="#f8f8f8"/><rect x="459" y="2" width="25" height="1" fill="#a0a0a0"/><rect x="459" y="2" width="1" height="22" fill="#a0a0a0"/><rect x="483" y="3" width="1" height="21" fill="#fff"/><rect x="460" y="23" width="24" height="1" fill="#fff"/></g>
<path d="M467.5 8v14M465 19.5h13" stroke="#4a4a4a" fill="none" shape-rendering="crispEdges"/>
<path d="M467.5 7l-2 3h4zM479 19.5l-3-2v4z" fill="#4a4a4a"/>
<path d="M473.5 8v12" stroke="#2a6ac0" stroke-width="1.2"/><path d="M474.500 13.500l4-2.800v5.600z" fill="#e05010"/><path d="M478 13.500h2.500" stroke="#e05010"/>
<rect x="488" y="3" width="1" height="20" fill="#a0a0a0" shape-rendering="crispEdges"/>
<path d="M498.500 6.500h7l3 3v10h-10z" fill="#fff" stroke="#7a7a7a"/><path d="M501 9v8M501 11h2" stroke="#8a8a8a" fill="none"/>
<path d="M506.800 12.900h3v3.500h3.500v3h-3.500v3.500h-3v-3.500h-3.500v-3h3.500z" fill="#3cdc3c" stroke="#118a11" stroke-width="1" stroke-linejoin="miter"/><path d="M508.300 14.400v8M504.800 17.900h7" stroke="#90f890" stroke-width="1" fill="none"/>
<path d="M519.500 13h5l-2.500 3z" fill="#000"/>
<circle cx="543.800" cy="14" r="7.800" fill="url(#gClk)" stroke="#1850a8" stroke-width="0.800"/><circle cx="543.800" cy="14" r="5.300" fill="#f4f8fc" stroke="#a8c8f0" stroke-width="0.600"/><path d="M544 10.500v4h3" stroke="#606060" stroke-width="1.200" fill="none"/>
<path d="M558.500 13h5l-2.500 3z" fill="#000"/>
<rect x="575.500" y="7.500" width="15" height="13" fill="#fff" stroke="#3c78c8"/><rect x="576" y="8" width="14" height="2" fill="#6ca4e8"/><path d="M576 14.500h14" stroke="#3c78c8"/><path d="M577.500 13.200h2l1.500-1.500h2.500l1 .8h2l1.500-1.300" stroke="#a82810" stroke-width="1.200" fill="none"/><path d="M578 19h2l1.500-1 1.500 1 2.500-2.200 2.500 2.200" stroke="#109010" stroke-width="1.200" fill="none"/>
<path d="M597.500 13h5l-2.500 3z" fill="#000"/>
<rect x="609" y="1" width="1" height="25" fill="#a0a0a0" shape-rendering="crispEdges"/>
<rect x="613" y="4" width="3" height="1" fill="#a9a9a9" shape-rendering="crispEdges"/>
<rect x="613" y="6" width="3" height="1" fill="#a9a9a9" shape-rendering="crispEdges"/>
<rect x="613" y="8" width="3" height="1" fill="#a9a9a9" shape-rendering="crispEdges"/>
<rect x="613" y="10" width="3" height="1" fill="#a9a9a9" shape-rendering="crispEdges"/>
<rect x="613" y="12" width="3" height="1" fill="#a9a9a9" shape-rendering="crispEdges"/>
<rect x="613" y="14" width="3" height="1" fill="#a9a9a9" shape-rendering="crispEdges"/>
<rect x="613" y="16" width="3" height="1" fill="#a9a9a9" shape-rendering="crispEdges"/>
<rect x="613" y="18" width="3" height="1" fill="#a9a9a9" shape-rendering="crispEdges"/>
<rect x="613" y="20" width="3" height="1" fill="#a9a9a9" shape-rendering="crispEdges"/>
<rect x="613" y="22" width="3" height="1" fill="#a9a9a9" shape-rendering="crispEdges"/>
<g shape-rendering="crispEdges"><rect x="619" y="2" width="25" height="22" fill="#f8f8f8"/><rect x="619" y="2" width="25" height="1" fill="#a0a0a0"/><rect x="619" y="2" width="1" height="22" fill="#a0a0a0"/><rect x="643" y="3" width="1" height="21" fill="#fff"/><rect x="620" y="23" width="24" height="1" fill="#fff"/></g>
<path d="M627 7v12l3-2.500 2.200 4.500 2-1-2.200-4.300h3.800z" fill="#444"/>
<path d="M659.500 7v15M652 14.500h15" stroke="#444" shape-rendering="crispEdges"/><rect x="658" y="13" width="3" height="3" fill="#f0f0f0"/>
<rect x="676" y="3" width="1" height="20" fill="#a0a0a0" shape-rendering="crispEdges"/>
<path d="M693.500 8v13" stroke="#444" shape-rendering="crispEdges"/>
<path d="M716 14.500h12" stroke="#444" shape-rendering="crispEdges"/>
<path d="M744 20.500l12-12" stroke="#555" stroke-width="1.2"/>
<path d="M770 16l12-8M771 20l12-8M773 19l3-9M777 17l3-9M781 14l2-7" stroke="#555" stroke-width="1.2" fill="none"/><text x="781" y="23" font-size="6.500" font-weight="bold" fill="#444">E</text>
<path d="M799 7.500h13" stroke="#555" stroke-dasharray="1 1" shape-rendering="crispEdges"/>
<path d="M799 11.500h13" stroke="#555" stroke-dasharray="1 1" shape-rendering="crispEdges"/>
<path d="M799 15.500h13" stroke="#555" stroke-dasharray="1 1" shape-rendering="crispEdges"/>
<path d="M799 19.500h13" stroke="#555" stroke-dasharray="1 1" shape-rendering="crispEdges"/>
<text x="808.5" y="23" font-size="6.500" font-weight="bold" fill="#444">F</text><rect x="806" y="17" width="8" height="4" fill="#f0f0f0"/><text x="808.5" y="23" font-size="6.500" font-weight="bold" fill="#444">F</text>
<text x="830" y="18.800" font-size="12" font-weight="bold" fill="#6a6a6a" style="letter-spacing:0">A</text>
<rect x="856.500" y="8.500" width="11" height="12" fill="none" stroke="#555" stroke-dasharray="1 1" shape-rendering="crispEdges"/><text x="858.500" y="18.800" font-size="10.500" font-weight="bold" fill="#666">T</text>
<path d="M887 8l3.500 3.500h-7zM894 20.500l-3.500-3.500h7z" fill="#444"/><path d="M886 14l2.500 3 5-6" stroke="#444" stroke-width="1.500" fill="none"/>
<path d="M904 13h5l-2.500 3z" fill="#000"/>
<rect x="915" y="1" width="1" height="25" fill="#a0a0a0" shape-rendering="crispEdges"/>
<rect x="919" y="4" width="3" height="1" fill="#a9a9a9" shape-rendering="crispEdges"/>
<rect x="919" y="6" width="3" height="1" fill="#a9a9a9" shape-rendering="crispEdges"/>
<rect x="919" y="8" width="3" height="1" fill="#a9a9a9" shape-rendering="crispEdges"/>
<rect x="919" y="10" width="3" height="1" fill="#a9a9a9" shape-rendering="crispEdges"/>
<rect x="919" y="12" width="3" height="1" fill="#a9a9a9" shape-rendering="crispEdges"/>
<rect x="919" y="14" width="3" height="1" fill="#a9a9a9" shape-rendering="crispEdges"/>
<rect x="919" y="16" width="3" height="1" fill="#a9a9a9" shape-rendering="crispEdges"/>
<rect x="919" y="18" width="3" height="1" fill="#a9a9a9" shape-rendering="crispEdges"/>
<rect x="919" y="20" width="3" height="1" fill="#a9a9a9" shape-rendering="crispEdges"/>
<rect x="919" y="22" width="3" height="1" fill="#a9a9a9" shape-rendering="crispEdges"/>
<text class="tb" x="930.5" y="18">M1</text>
<text class="tb" x="958.5" y="18">M5</text>
<text class="tb" x="984" y="18">M15</text>
<text class="tb" x="1012.5" y="18">M30</text>
<text class="tb" x="1043.5" y="18">H1</text>
<text class="tb" x="1099.5" y="18">D1</text>
<text class="tb" x="1127" y="18">W1</text>
<text class="tb" x="1153.5" y="18">MN</text>
<g shape-rendering="crispEdges"><rect x="1065" y="2" width="25" height="22" fill="#f8f8f8"/><rect x="1065" y="2" width="25" height="1" fill="#a0a0a0"/><rect x="1065" y="2" width="1" height="22" fill="#a0a0a0"/><rect x="1089" y="3" width="1" height="21" fill="#fff"/><rect x="1066" y="23" width="24" height="1" fill="#fff"/></g>
<text class="tb" x="1070.5" y="18">H4</text>
<rect x="1176" y="1" width="1" height="25" fill="#a0a0a0" shape-rendering="crispEdges"/>
<path d="M1643.300 14.800l-4.200 4.200" stroke="#1c54cc" stroke-width="2.600"/><circle cx="1646.500" cy="11.500" r="4.100" fill="#f8f9ff" stroke="#2c64dc" stroke-width="1.300"/>
<defs><linearGradient id="gBadge" x1="0" y1="0" x2="0" y2="1"><stop offset="0" stop-color="#ea5434"/><stop offset="0.5" stop-color="#de3018"/><stop offset="1" stop-color="#d82010"/></linearGradient></defs>
<ellipse cx="1669.500" cy="22.600" rx="6" ry="0.800" fill="#d4d4d4"/>
<path d="M1663.500 15.500a4.500 4 0 0 1 4.500-4h4a3.500 4 0 0 1 3 4.500a4.500 4 0 0 1-4.500 4h-2.500l-1.500 2.500l-.5-2.800a4 4 0 0 1-2.500-4.200z" fill="#e6e6f0" stroke="#a4a4a8" stroke-width="0.900"/>
<circle cx="1677.500" cy="11.300" r="8.400" fill="url(#gBadge)"/><text x="1674" y="15.800" font-size="12" font-weight="bold" fill="#fff" font-family="Liberation Serif,serif">1</text>
</svg></body></html>
